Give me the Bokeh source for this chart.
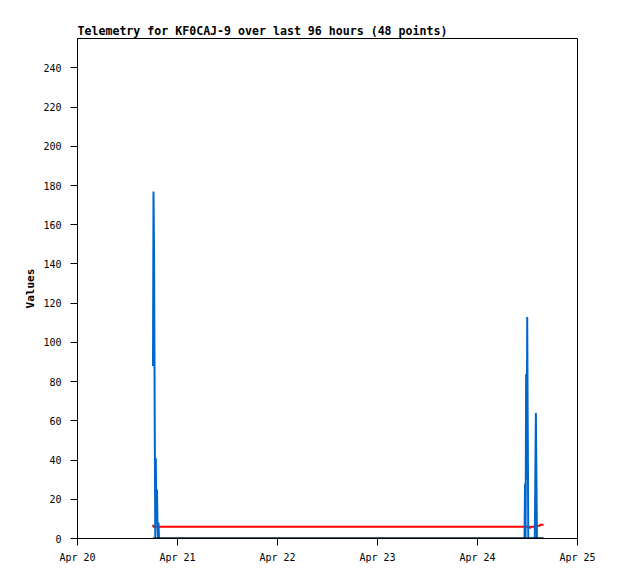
from bokeh.plotting import figure
from bokeh.models import Range1d, FixedTicker, ColumnDataSource
from bokeh.embed import file_html
from bokeh.resources import INLINE

# time in hours since Apr 20 00:00
hours = [18.12, 18.24, 18.38, 18.53, 18.67, 18.79, 18.94, 19.08, 19.20, 19.32, 19.44, 19.56,
         107.28, 107.41, 107.54, 107.67, 107.80, 107.93, 108.06, 108.19, 108.32, 108.45, 108.58, 108.71,
         108.84, 108.97, 109.10, 109.23, 109.36, 109.49, 109.62, 109.75, 109.88, 110.01, 110.14, 110.27,
         110.40, 110.53, 110.66, 110.79, 110.92, 111.05, 111.18, 111.31, 111.44, 111.57, 111.70, 111.83]

blue_vals = [88, 177, 145, 60, 0, 41, 8, 25, 8, 0, 8, 0,
             0, 28, 0, 84, 30, 113, 56, 0, 0, 0, 0, 0,
             0, 0, 0, 0, 0, 0, 0, 0, 32, 64, 32, 0,
             0, 0, 0, 0, 0, 0, 0, 0, 0, 0, 0, 0]

red_vals = [7, 6, 6, 6, 6, 6, 6, 6, 6, 6, 6, 6,
            6, 6, 6, 6, 6, 6, 6, 6, 6, 6, 5.5, 5.5,
            6, 6, 6, 6, 6, 6, 6, 6, 6, 6, 6, 6,
            6.5, 6.5, 6.5, 6.5, 6.5, 7, 7, 7, 7, 7, 7, 7]

black_vals = [0] * 48

x_ticks = [0, 24, 48, 72, 96, 120]
x_tick_labels = ["Apr 20", "Apr 21", "Apr 22", "Apr 23", "Apr 24", "Apr 25"]
y_ticks = [0, 20, 40, 60, 80, 100, 120, 140, 160, 180, 200, 220, 240]

title_text = "Telemetry for KF0CAJ-9 over last 96 hours (48 points)"

src = ColumnDataSource(dict(t=hours, blue=blue_vals, red=red_vals, black=black_vals))

p = figure(width=610, height=571, output_backend="svg", toolbar_location=None,
           x_range=Range1d(0, 120), y_range=Range1d(0, 255),
           min_border_left=77, min_border_right=33, min_border_top=38, min_border_bottom=33,
           title=title_text)

p.title.text_font = "DejaVu Sans Mono"
p.title.text_font_size = "11.6px"
p.title.text_font_style = "bold"
p.title.align = "left"
p.title.standoff = 1
p.title.text_color = "black"

p.background_fill_color = "white"
p.border_fill_color = "white"
p.outline_line_color = "black"
p.outline_line_width = 1
p.xgrid.visible = False
p.ygrid.visible = False

p.line("t", "red", source=src, line_color="#ff0000", line_width=2)
p.line("t", "blue", source=src, line_color="#0066cc", line_width=2)
p.line("t", "black", source=src, line_color="#000000", line_width=2)

for ax in (p.xaxis[0], p.yaxis[0]):
    ax.axis_line_color = "black"
    ax.major_tick_line_color = "black"
    ax.major_tick_out = 7
    ax.major_tick_in = 0
    ax.minor_tick_line_color = None
    ax.major_label_text_font = "DejaVu Sans Mono"
    ax.major_label_text_font_size = "10px"
    ax.major_label_text_color = "black"

p.xaxis.ticker = FixedTicker(ticks=x_ticks)
p.xaxis.major_label_overrides = {t: l for t, l in zip(x_ticks, x_tick_labels)}
p.xaxis.major_label_standoff = 6
p.yaxis.ticker = FixedTicker(ticks=y_ticks)
p.yaxis.major_label_standoff = 9
p.yaxis.axis_label = "Values"
p.yaxis.axis_label_text_font = "DejaVu Sans Mono"
p.yaxis.axis_label_text_font_size = "11px"
p.yaxis.axis_label_text_font_style = "bold"
p.yaxis.axis_label_text_color = "black"
p.yaxis.axis_label_standoff = 3

open("out.html", "w").write(file_html(p, INLINE))
